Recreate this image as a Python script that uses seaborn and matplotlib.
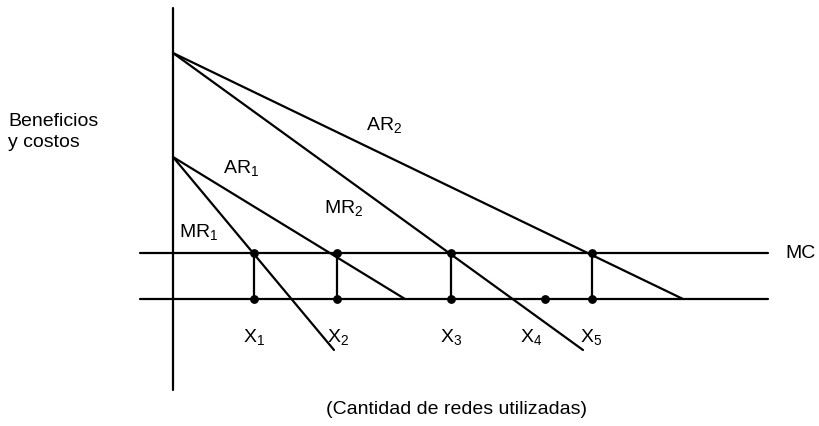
import matplotlib
matplotlib.use("Agg")
import matplotlib.pyplot as plt
import seaborn as sns
import pandas as pd

# curve endpoints (x = quantity of nets, y = benefits/costs)
curve_names = ["AR2", "MR2", "AR1", "MR1"]
curve_x0 = [0.0, 0.0, 0.0, 0.0]
curve_y0 = [24.6, 24.6, 14.2, 14.2]
curve_x1 = [51.0, 41.0, 23.2, 16.1]
curve_y1 = [0.0, -5.1, 0.0, -5.1]

mc_level = 4.6
base_level = 0.0
hline_start = -3.3
hline_end = 59.5
axis_bottom = -9.1
axis_top = 29.1

# optimum points X1..X5 and the extra dot on the base line
x_points = [8.1, 16.4, 27.8, 41.9]
extra_dot = [37.2]
x_tick_labels = ["X$_1$", "X$_2$", "X$_3$", "X$_4$", "X$_5$"]
x_tick_pos = [8.1, 16.5, 27.8, 35.8, 41.8]

curve_labels = ["AR$_2$", "MR$_2$", "AR$_1$", "MR$_1$", "MC"]
curve_label_x = [21.1, 17.1, 6.8, 2.6, 62.8]
curve_label_y = [17.4, 9.1, 13.1, 6.7, 4.6]

y_title = "Beneficios\ny costos"
x_title = "(Cantidad de redes utilizadas)"

sns.set_theme(style="white")
plt.rcParams["font.family"] = ["Liberation Sans", "DejaVu Sans"]
plt.rcParams["mathtext.default"] = "regular"
plt.rcParams["text.color"] = "black"

fig = plt.figure(figsize=(8.2, 4.26), dpi=100)
ax = fig.add_axes([0, 0, 1, 1])
ax.set_xlim(-17.3, 64.7)
ax.set_ylim(-12.7, 29.9)
ax.set_axis_off()

# long-form table of every straight segment
rows = []
for n, x0, y0, x1, y1 in zip(curve_names, curve_x0, curve_y0, curve_x1, curve_y1):
    rows += [(n, x0, y0), (n, x1, y1)]
rows += [("MC", hline_start, mc_level), ("MC", hline_end, mc_level)]
rows += [("base", hline_start, base_level), ("base", hline_end, base_level)]
rows += [("axis", 0.0, axis_bottom), ("axis", 0.0, axis_top)]
for i, xp in enumerate(x_points):
    rows += [(f"drop{i}", xp, base_level), (f"drop{i}", xp, mc_level)]
seg = pd.DataFrame(rows, columns=["seg", "x", "y"])

sns.lineplot(data=seg, x="x", y="y", units="seg", estimator=None, sort=False,
             color="black", linewidth=1.6, ax=ax, legend=False)

dots = pd.DataFrame({
    "x": x_points + x_points + extra_dot,
    "y": [mc_level] * len(x_points) + [base_level] * (len(x_points) + len(extra_dot)),
})
sns.scatterplot(data=dots, x="x", y="y", color="black", s=40, edgecolor="black",
                linewidth=0, ax=ax, zorder=5)

fs = 14
for lab, xp in zip(x_tick_labels, x_tick_pos):
    ax.text(xp, -3.8, lab, ha="center", va="center", fontsize=fs)

for lab, lx, ly in zip(curve_labels, curve_label_x, curve_label_y):
    ax.text(lx, ly, lab, ha="center", va="center", fontsize=fs)

ax.text(-16.5, 16.7, y_title, ha="left", va="center", fontsize=fs, linespacing=1.25)
ax.text(28.4, -11.1, x_title, ha="center", va="center", fontsize=fs)

fig.savefig("out.png", dpi=100)
